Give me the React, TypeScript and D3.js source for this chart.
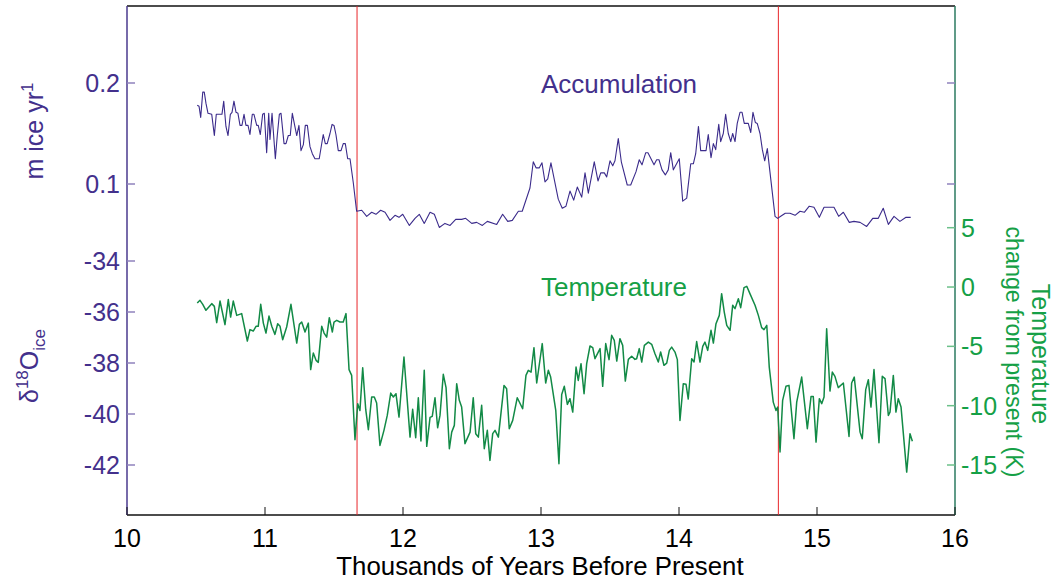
import * as d3 from "d3";

// Accumulation (m ice / yr) vs thousands of years before present
const accSeries: [number, number][] = [
  [10.509, 0.178], [10.522, 0.177], [10.534, 0.166], [10.549, 0.191], [10.56, 0.191], [10.572, 0.18],
  [10.587, 0.17], [10.614, 0.169], [10.633, 0.148], [10.647, 0.169], [10.688, 0.169], [10.701, 0.182],
  [10.717, 0.157], [10.732, 0.148], [10.749, 0.169], [10.761, 0.171], [10.775, 0.182], [10.79, 0.171],
  [10.804, 0.17], [10.819, 0.158], [10.833, 0.158], [10.848, 0.169], [10.862, 0.158], [10.877, 0.158],
  [10.891, 0.149], [10.908, 0.169], [10.92, 0.169], [10.94, 0.158], [10.951, 0.158], [10.966, 0.149],
  [10.983, 0.169], [10.995, 0.17], [11.012, 0.131], [11.027, 0.17], [11.036, 0.144], [11.051, 0.17],
  [11.06, 0.153], [11.075, 0.125], [11.089, 0.148], [11.104, 0.169], [11.116, 0.17], [11.138, 0.14],
  [11.152, 0.14], [11.169, 0.148], [11.183, 0.148], [11.198, 0.17], [11.215, 0.158], [11.23, 0.148],
  [11.246, 0.158], [11.261, 0.133], [11.278, 0.139], [11.292, 0.158], [11.307, 0.158], [11.326, 0.137],
  [11.343, 0.13], [11.362, 0.125], [11.393, 0.125], [11.422, 0.149], [11.437, 0.14], [11.451, 0.14],
  [11.471, 0.15], [11.486, 0.159], [11.5, 0.158], [11.514, 0.149], [11.531, 0.133], [11.551, 0.133],
  [11.567, 0.14], [11.582, 0.14], [11.599, 0.125], [11.616, 0.125], [11.64, 0.101], [11.664, 0.073],
  [11.701, 0.074], [11.737, 0.068], [11.773, 0.072], [11.804, 0.07], [11.838, 0.074], [11.87, 0.072],
  [11.906, 0.064], [11.942, 0.069], [11.971, 0.067], [11.998, 0.07], [12.046, 0.059], [12.087, 0.066],
  [12.118, 0.07], [12.154, 0.061], [12.196, 0.072], [12.227, 0.07], [12.263, 0.057], [12.304, 0.061],
  [12.341, 0.059], [12.382, 0.065], [12.425, 0.065], [12.454, 0.066], [12.498, 0.061], [12.534, 0.062],
  [12.575, 0.059], [12.611, 0.063], [12.679, 0.06], [12.722, 0.07], [12.759, 0.063], [12.792, 0.064],
  [12.836, 0.073], [12.864, 0.073], [12.92, 0.096], [12.944, 0.122], [12.964, 0.116], [12.988, 0.116],
  [13.007, 0.121], [13.029, 0.102], [13.049, 0.105], [13.072, 0.121], [13.125, 0.085], [13.154, 0.076],
  [13.181, 0.078], [13.21, 0.093], [13.237, 0.084], [13.263, 0.097], [13.295, 0.087], [13.319, 0.111],
  [13.343, 0.091], [13.386, 0.122], [13.413, 0.103], [13.433, 0.111], [13.459, 0.111], [13.476, 0.107],
  [13.5, 0.123], [13.52, 0.118], [13.536, 0.123], [13.56, 0.145], [13.582, 0.122], [13.625, 0.099],
  [13.65, 0.099], [13.688, 0.112], [13.712, 0.124], [13.732, 0.119], [13.759, 0.131], [13.775, 0.131],
  [13.819, 0.119], [13.838, 0.124], [13.855, 0.124], [13.877, 0.114], [13.901, 0.109], [13.922, 0.114],
  [13.94, 0.131], [13.959, 0.114], [14.002, 0.125], [14.027, 0.083], [14.056, 0.086], [14.085, 0.12],
  [14.104, 0.12], [14.121, 0.13], [14.141, 0.157], [14.157, 0.133], [14.196, 0.133], [14.212, 0.149],
  [14.232, 0.126], [14.249, 0.14], [14.266, 0.134], [14.288, 0.159], [14.302, 0.142], [14.321, 0.15],
  [14.338, 0.169], [14.357, 0.15], [14.375, 0.142], [14.389, 0.15], [14.406, 0.142], [14.422, 0.16],
  [14.442, 0.171], [14.457, 0.171], [14.473, 0.16], [14.502, 0.16], [14.52, 0.151], [14.536, 0.171],
  [14.553, 0.161], [14.567, 0.16], [14.587, 0.15], [14.604, 0.134], [14.621, 0.123], [14.64, 0.135],
  [14.659, 0.112], [14.696, 0.068], [14.715, 0.066], [14.737, 0.068], [14.77, 0.071], [14.804, 0.071],
  [14.841, 0.069], [14.877, 0.073], [14.908, 0.072], [14.944, 0.078], [14.978, 0.077], [15.017, 0.067],
  [15.051, 0.077], [15.123, 0.077], [15.157, 0.068], [15.191, 0.072], [15.234, 0.062], [15.268, 0.063],
  [15.312, 0.062], [15.36, 0.058], [15.404, 0.066], [15.444, 0.066], [15.48, 0.076], [15.517, 0.06],
  [15.558, 0.068], [15.601, 0.063], [15.645, 0.067], [15.679, 0.067],
];

// Temperature change from present (K)
const tempSeries: [number, number][] = [
  [10.509, -1.35], [10.529, -1.12], [10.549, -1.46], [10.572, -1.96], [10.614, -1.4], [10.633, -1.63],
  [10.65, -3.0], [10.674, -1.18], [10.71, -3.17], [10.734, -1.06], [10.751, -2.53], [10.77, -1.18],
  [10.795, -2.39], [10.831, -2.24], [10.872, -4.55], [10.891, -3.59], [10.915, -3.71], [10.935, -3.31],
  [10.951, -3.31], [10.969, -1.46], [10.988, -3.04], [11.007, -3.88], [11.029, -2.45], [11.049, -3.31],
  [11.072, -3.99], [11.092, -3.09], [11.109, -3.31], [11.128, -4.44], [11.157, -3.37], [11.188, -1.46],
  [11.23, -4.72], [11.249, -3.15], [11.266, -2.95], [11.29, -3.79], [11.314, -3.04], [11.331, -6.96],
  [11.35, -5.56], [11.37, -6.18], [11.386, -6.35], [11.411, -3.31], [11.428, -3.88], [11.447, -4.22],
  [11.466, -2.58], [11.488, -3.79], [11.5, -2.95], [11.52, -2.81], [11.543, -2.95], [11.567, -2.95],
  [11.587, -2.24], [11.609, -6.96], [11.628, -7.45], [11.652, -12.87], [11.672, -9.83], [11.688, -10.4],
  [11.708, -6.8], [11.73, -10.34], [11.749, -12.02], [11.773, -9.27], [11.792, -9.27], [11.809, -9.78],
  [11.833, -13.35], [11.862, -12.08], [11.886, -10.82], [11.911, -8.94], [11.93, -9.27], [11.949, -8.99],
  [11.971, -10.96], [12.007, -5.9], [12.051, -12.65], [12.07, -10.31], [12.092, -12.7], [12.111, -9.33],
  [12.13, -12.98], [12.154, -7.02], [12.172, -13.43], [12.196, -10.99], [12.212, -10.9], [12.232, -9.33],
  [12.251, -11.86], [12.268, -10.82], [12.292, -7.36], [12.312, -8.48], [12.336, -13.63], [12.353, -12.23],
  [12.372, -11.66], [12.389, -8.15], [12.408, -9.55], [12.425, -10.12], [12.449, -13.2], [12.486, -12.23],
  [12.509, -9.33], [12.527, -12.36], [12.546, -12.65], [12.57, -9.97], [12.589, -13.63], [12.611, -12.08],
  [12.63, -14.61], [12.65, -12.36], [12.667, -12.08], [12.691, -12.65], [12.732, -8.29], [12.751, -8.57],
  [12.77, -11.94], [12.795, -11.24], [12.828, -9.33], [12.867, -10.26], [12.891, -7.45], [12.908, -7.02],
  [12.928, -7.17], [12.949, -5.11], [12.969, -8.09], [13.009, -4.77], [13.034, -8.09], [13.053, -7.02],
  [13.07, -7.59], [13.107, -10.4], [13.13, -14.89], [13.15, -9.05], [13.169, -8.37], [13.191, -9.89],
  [13.21, -9.41], [13.23, -10.54], [13.254, -6.75], [13.27, -7.87], [13.29, -6.46], [13.312, -8.99],
  [13.331, -6.46], [13.355, -4.97], [13.375, -5.11], [13.391, -6.04], [13.428, -5.19], [13.447, -8.37],
  [13.469, -4.77], [13.493, -6.12], [13.512, -4.07], [13.531, -4.49], [13.549, -6.24], [13.572, -4.35],
  [13.592, -4.92], [13.611, -7.93], [13.633, -6.1], [13.657, -5.84], [13.681, -6.1], [13.693, -6.04],
  [13.712, -5.19], [13.73, -6.32], [13.749, -4.92], [13.778, -4.64], [13.802, -4.83], [13.826, -5.62],
  [13.85, -6.32], [13.867, -5.48], [13.891, -6.6], [13.911, -6.41], [13.93, -5.34], [13.947, -5.06],
  [13.971, -5.48], [13.988, -6.12], [14.007, -11.24], [14.031, -8.15], [14.051, -8.2], [14.067, -9.44],
  [14.092, -6.04], [14.109, -6.32], [14.128, -4.6], [14.152, -6.32], [14.172, -5.0], [14.188, -4.64],
  [14.208, -5.34], [14.232, -3.65], [14.249, -4.72], [14.268, -3.09], [14.292, -2.39], [14.309, -0.56],
  [14.328, -2.11], [14.346, -3.23], [14.37, -3.65], [14.389, -1.54], [14.406, -1.82], [14.43, -0.98],
  [14.447, -1.74], [14.471, -0.05], [14.491, 0.06], [14.514, -0.56], [14.551, -1.54], [14.575, -2.39],
  [14.599, -3.42], [14.616, -3.59], [14.636, -3.23], [14.654, -6.75], [14.683, -9.7], [14.703, -10.4],
  [14.715, -10.12], [14.732, -13.91], [14.751, -9.55], [14.775, -8.37], [14.797, -8.29], [14.833, -12.78],
  [14.853, -9.7], [14.889, -7.59], [14.93, -11.94], [14.957, -9.22], [14.973, -9.22], [14.993, -13.07],
  [15.017, -9.41], [15.034, -9.83], [15.051, -9.27], [15.07, -3.51], [15.094, -8.77], [15.111, -7.17],
  [15.13, -7.53], [15.154, -8.48], [15.191, -8.09], [15.232, -12.59], [15.251, -8.09], [15.27, -7.59],
  [15.312, -12.23], [15.328, -12.78], [15.353, -8.65], [15.372, -7.81], [15.391, -10.12], [15.413, -6.96],
  [15.449, -13.12], [15.473, -7.53], [15.493, -7.72], [15.517, -10.82], [15.529, -10.54], [15.553, -7.45],
  [15.572, -10.54], [15.589, -9.41], [15.609, -10.12], [15.65, -15.6], [15.674, -12.36], [15.691, -12.99],
];

const transitions = [11.667, 14.72];
const xTicks = [10, 11, 12, 13, 14, 15, 16];
const accTicks = [0.1, 0.2];
const d18Ticks = [-42, -40, -38, -36, -34];
const tempTicks = [-15, -10, -5, 0, 5];

const PURPLE = "#43308c";
const GREEN = "#15a046";
const FONT = "'Liberation Sans', Arial, Helvetica, sans-serif";

export default function App() {
  const left = 127;
  const right = 955;
  const top = 6;
  const bottom = 515;

  const x = d3.scaleLinear().domain([10, 16]).range([left, right]);
  const yAcc = d3.scaleLinear().domain([0.1, 0.2]).range([184, 83]);
  const yD18 = d3.scaleLinear().domain([-42, -34]).range([465, 261]);
  const yT = d3.scaleLinear().domain([-15, 5]).range([465, 227.7]);

  const accLine = d3.line<[number, number]>().x((d) => x(d[0])).y((d) => yAcc(d[1]));
  const tempLine = d3.line<[number, number]>().x((d) => x(d[0])).y((d) => yT(d[1]));

  const tl = 8; // tick length

  return (
    <svg
      width={1056}
      height={581}
      style={{ position: "absolute", left: 0, top: 0, background: "#fff" }}
      fontFamily={FONT}
    >
      {/* frame */}
      <line x1={left} x2={right} y1={top} y2={top} stroke="#111" strokeWidth={1.5} />
      <line x1={left} x2={right} y1={bottom} y2={bottom} stroke="#111" strokeWidth={1.5} />
      <line x1={left} x2={left} y1={top} y2={bottom} stroke="#4a3a8e" strokeWidth={1.5} />
      <line x1={right} x2={right} y1={top} y2={bottom} stroke="#2b7a60" strokeWidth={1.5} />

      {/* transition markers */}
      {transitions.map((t) => (
        <line key={t} x1={x(t)} x2={x(t)} y1={top} y2={bottom} stroke="#e8262a" strokeWidth={1} />
      ))}

      {/* x axis */}
      {xTicks.map((t) => (
        <g key={t}>
          <line x1={x(t)} x2={x(t)} y1={bottom} y2={bottom - tl} stroke="#111" strokeWidth={1} />
          <text x={x(t)} y={547} textAnchor="middle" fontSize={25} fill="#000">
            {t}
          </text>
        </g>
      ))}
      <text x={540} y={575} textAnchor="middle" fontSize={25.8} fill="#000">
        Thousands of Years Before Present
      </text>

      {/* accumulation axis (both sides) */}
      {accTicks.map((t) => (
        <g key={t}>
          <line x1={left} x2={left + tl} y1={yAcc(t)} y2={yAcc(t)} stroke="#8f82bd" strokeWidth={1.5} />
          <line x1={right} x2={right - tl} y1={yAcc(t)} y2={yAcc(t)} stroke="#8f82bd" strokeWidth={1.5} />
          <text x={120} y={yAcc(t)} dy="0.36em" textAnchor="end" fontSize={25} fill={PURPLE}>
            {t.toFixed(1)}
          </text>
        </g>
      ))}

      {/* δ18O axis */}
      {d18Ticks.map((t) => (
        <g key={t}>
          <line x1={left} x2={left + tl} y1={yD18(t)} y2={yD18(t)} stroke="#8f82bd" strokeWidth={1.5} />
          <text x={120} y={yD18(t)} dy="0.36em" textAnchor="end" fontSize={25} fill={PURPLE}>
            {t}
          </text>
        </g>
      ))}

      {/* temperature axis */}
      {tempTicks.map((t) => (
        <g key={t}>
          <line x1={right} x2={right - tl} y1={yT(t)} y2={yT(t)} stroke="#6cc08a" strokeWidth={1.5} />
          <text x={961} y={yT(t)} dy="0.36em" textAnchor="start" fontSize={25} fill={GREEN}>
            {t}
          </text>
        </g>
      ))}

      {/* axis titles */}
      <text transform="translate(43,131) rotate(-90)" textAnchor="middle" fontSize={25} fill={PURPLE}>
        m ice yr
        <tspan fontSize={17} dy={-10}>1</tspan>
      </text>
      <text transform="translate(38,366) rotate(-90)" textAnchor="middle" fontSize={25} fill={PURPLE}>
        δ
        <tspan fontSize={17} dy={-10}>18</tspan>
        <tspan dy={10}>O</tspan>
        <tspan fontSize={17} dy={7}>ice</tspan>
      </text>
      <text transform="translate(1032,354) rotate(90)" textAnchor="middle" fontSize={25} fill={GREEN}>
        Temperature
      </text>
      <text transform="translate(1006,352) rotate(90)" textAnchor="middle" fontSize={23.3} fill={GREEN}>
        change from present (K)
      </text>

      {/* series */}
      <path d={accLine(accSeries) ?? ""} fill="none" stroke="#3b2b8b" strokeWidth={1.1} strokeLinejoin="round" />
      <path d={tempLine(tempSeries) ?? ""} fill="none" stroke="#128a46" strokeWidth={1.5} strokeLinejoin="round" />

      {/* annotations */}
      <text x={541} y={93} fontSize={26} fill={PURPLE}>
        Accumulation
      </text>
      <text x={541} y={296} fontSize={26} fill={GREEN}>
        Temperature
      </text>
    </svg>
  );
}
